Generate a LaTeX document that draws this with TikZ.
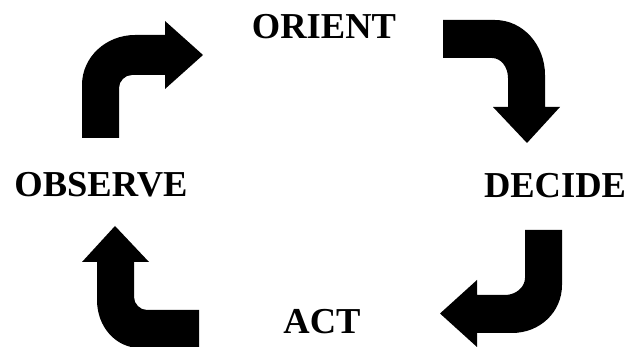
\documentclass[tikz,border=0pt]{standalone}
\usepackage{fontspec}
\setmainfont{Liberation Serif}
\begin{document}
\begin{tikzpicture}[x=1pt,y=-1pt,
  lbl/.style={inner sep=0pt,font=\fontsize{36.5}{40}\selectfont\bfseries},
  bigarrow/.style={fill=black,draw=none}]
\useasboundingbox (0,0) rectangle (633,347);
\clip (0,0) rectangle (633,347);
\node[lbl] (orient) at (324,27) {ORIENT};
\node[lbl] (observe) at (101,185) {OBSERVE};
\node[lbl] (decide) at (555,186) {DECIDE};
\node[lbl] (act) at (322,322) {ACT};
% observe -> orient
\fill[bigarrow] (82,138) -- (82,85) .. controls (82,57) and (106,35) .. (135,35)
  -- (165,35) -- (165,21) -- (203,55) -- (165,89) -- (165,75) -- (132,75)
  .. controls (125,75) and (119,81) .. (119,88) -- (119,138) -- cycle;
% orient -> decide
\fill[bigarrow] (443,20) -- (495,20) .. controls (523,20) and (545,45) .. (545,75)
  -- (545,107) -- (560,107) -- (527,143) -- (493,107) -- (508,107) -- (508,78)
  .. controls (508,67) and (501,58) .. (492,58) -- (443,58) -- cycle;
% decide -> act
\fill[bigarrow] (525,230) -- (562,230) -- (562,285) .. controls (562,312) and (540,333) .. (512,333)
  -- (477,333) -- (477,347) -- (440,313.5) -- (477,280) -- (477,295) -- (505,295)
  .. controls (516,295) and (525,287) .. (525,278) -- cycle;
% act -> observe
\fill[bigarrow] (199,310) -- (147,310) .. controls (140,310) and (134,304) .. (134,297)
  -- (134,262) -- (149,262) -- (115,226) -- (82,262) -- (97,262) -- (97,300)
  .. controls (97,327) and (116,348) .. (140,348) -- (199,348) -- cycle;
\end{tikzpicture}
\end{document}
